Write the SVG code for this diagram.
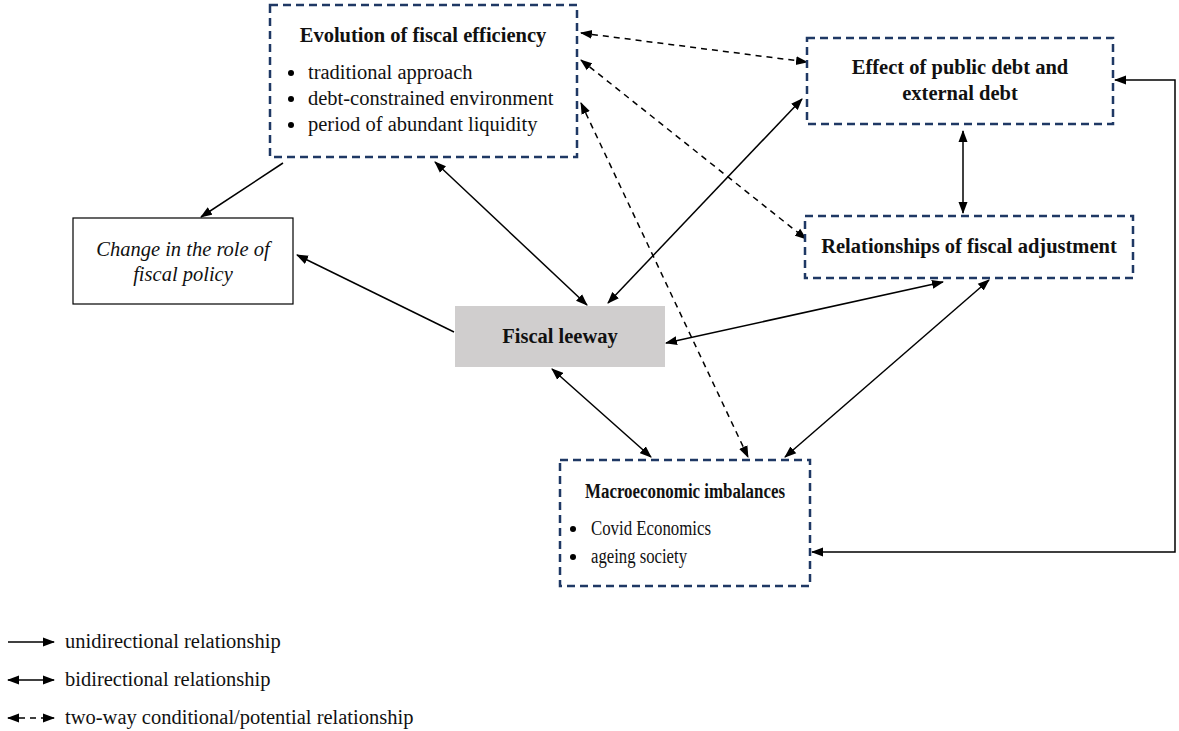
<svg xmlns="http://www.w3.org/2000/svg" width="1179" height="731" viewBox="0 0 1179 731">
<defs>
<marker id="ah" markerUnits="userSpaceOnUse" markerWidth="12" markerHeight="10" refX="11" refY="4.5" orient="auto-start-reverse" viewBox="0 0 12 9">
<path d="M0,0 L12,4.5 L0,9 Z" fill="#000"/>
</marker>
</defs>
<style>
text{font-family:"Liberation Serif","Times New Roman",serif;font-size:20.5px;fill:#111}
.b{font-weight:bold}
.it{font-style:italic}
.mid{text-anchor:middle}
.dbox{fill:#fff;stroke:#1f3864;stroke-width:2.5;stroke-dasharray:8 5}
.c{stroke:#000;stroke-width:1.5;fill:none}
.d{stroke:#000;stroke-width:1.5;fill:none;stroke-dasharray:6 5}
.u{marker-end:url(#ah)}
.bi{marker-start:url(#ah);marker-end:url(#ah)}
.bul{fill:#000}
</style>
<rect width="1179" height="731" fill="#fff"/>

<g id="connectors">
<line class="c u" x1="283" y1="163" x2="201" y2="217"/>
<line class="c u" x1="454" y1="332" x2="297" y2="255"/>
<line class="c bi" x1="435" y1="162" x2="587" y2="305"/>
<line class="c bi" x1="802" y1="99" x2="608" y2="303"/>
<line class="d bi" x1="581" y1="33" x2="807" y2="62"/>
<line class="d bi" x1="581" y1="60" x2="806" y2="239"/>
<line class="d bi" x1="581" y1="103" x2="748" y2="457"/>
<line class="c bi" x1="963" y1="131" x2="963" y2="213"/>
<line class="c bi" x1="943" y1="282" x2="666" y2="343"/>
<line class="c bi" x1="989" y1="280" x2="785" y2="457"/>
<line class="c bi" x1="552" y1="369" x2="651" y2="457"/>
<polyline class="c bi" points="1115,80 1175,80 1175,552 812,552"/>
</g>

<g id="evolution">
<rect class="dbox" x="270" y="5" width="307" height="152"/>
<text class="b mid" x="423" y="42">Evolution of fiscal efficiency</text>
<circle class="bul" cx="291" cy="73" r="3"/>
<text x="308" y="79">traditional approach</text>
<circle class="bul" cx="291" cy="99" r="3"/>
<text x="308" y="105">debt-constrained environment</text>
<circle class="bul" cx="291" cy="125" r="3"/>
<text x="308" y="131">period of abundant liquidity</text>
</g>

<g id="effect">
<rect class="dbox" x="807" y="38" width="306" height="86"/>
<text class="b mid" x="960" y="74">Effect of public debt and</text>
<text class="b mid" x="960" y="100">external debt</text>
</g>

<g id="change">
<rect x="73" y="218" width="220" height="86" fill="#fff" stroke="#000" stroke-width="1.2"/>
<text class="it mid" x="183" y="256">Change in the role of</text>
<text class="it mid" x="183" y="281">fiscal policy</text>
</g>

<g id="leeway">
<rect x="455" y="306" width="210" height="61" fill="#d0cece"/>
<text class="b mid" x="560" y="343">Fiscal leeway</text>
</g>

<g id="relationships">
<rect class="dbox" x="805" y="216" width="328" height="62"/>
<text class="b mid" x="969" y="253">Relationships of fiscal adjustment</text>
</g>

<g id="macro">
<rect class="dbox" x="560" y="460" width="250" height="126"/>
<text class="b" x="585" y="498" textLength="200" lengthAdjust="spacingAndGlyphs">Macroeconomic imbalances</text>
<circle class="bul" cx="573" cy="529" r="3"/>
<text x="591" y="535" textLength="120" lengthAdjust="spacingAndGlyphs">Covid Economics</text>
<circle class="bul" cx="573" cy="557" r="3"/>
<text x="591" y="563" textLength="96" lengthAdjust="spacingAndGlyphs">ageing society</text>
</g>

<g id="legend">
<line class="c u" x1="8" y1="642" x2="54" y2="642"/>
<text x="65" y="648">unidirectional relationship</text>
<line class="c bi" x1="8" y1="680" x2="54" y2="680"/>
<text x="65" y="686">bidirectional relationship</text>
<line class="d bi" x1="8" y1="718" x2="54" y2="718" stroke-dasharray="5 4"/>
<text x="65" y="724">two-way conditional/potential relationship</text>
</g>
</svg>
